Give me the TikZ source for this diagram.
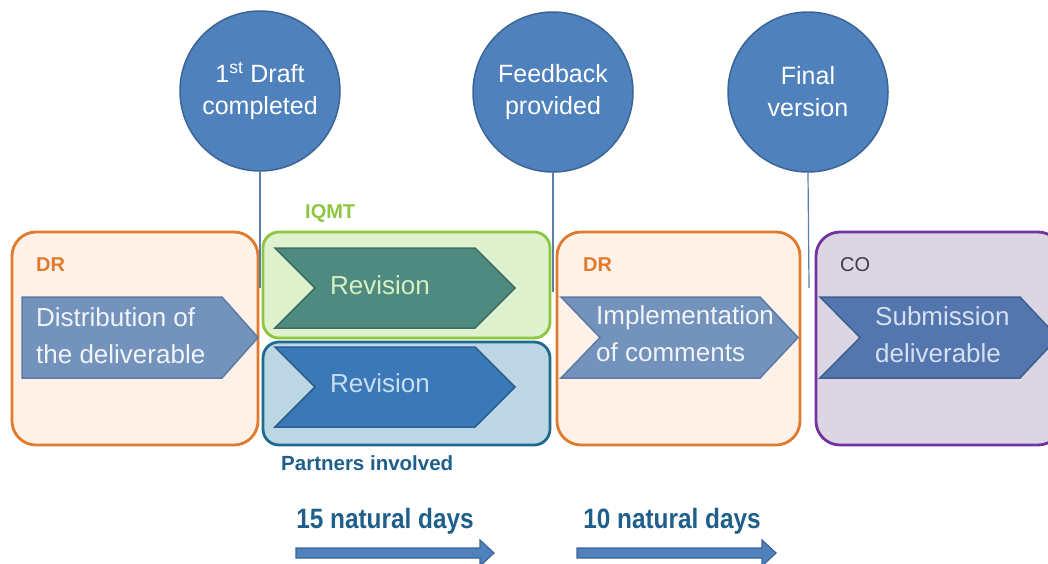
\documentclass[tikz,border=0pt]{standalone}
\usepackage{fontspec}
\usepackage{graphicx}
\setmainfont{Liberation Sans}

\definecolor{orangeline}{HTML}{E07A2C}
\definecolor{orangefill}{HTML}{FDF1E8}
\definecolor{greenline}{HTML}{8DC63F}
\definecolor{greenfill}{HTML}{E0F1CD}
\definecolor{blueline}{HTML}{1F6A8F}
\definecolor{bluefill}{HTML}{BDD6E3}
\definecolor{purpleline}{HTML}{7232A0}
\definecolor{purplefill}{HTML}{DCD6E3}
\definecolor{milestone}{HTML}{4F81BD}
\definecolor{milestoneline}{HTML}{3B6596}
\definecolor{stepblue}{HTML}{7393BD}
\definecolor{stepblueline}{HTML}{5B7BA6}
\definecolor{stepteal}{HTML}{4F8A80}
\definecolor{steptealline}{HTML}{3E6F67}
\definecolor{steproyal}{HTML}{3B78B7}
\definecolor{steproyalline}{HTML}{2B5E92}
\definecolor{stepsubmit}{HTML}{5476AE}
\definecolor{stepsubmitline}{HTML}{3F5F93}
\definecolor{labelblue}{HTML}{1F5F8B}
\definecolor{labelgrey}{HTML}{3C3C4E}
\definecolor{tickline}{HTML}{5A7FA8}
\definecolor{paletext}{HTML}{F2F4F8}
\definecolor{palegreen}{HTML}{D6F0C4}
\definecolor{paleblue}{HTML}{C8DEF0}
\definecolor{palelilac}{HTML}{D6E0F0}

\tikzset{
  milestonenode/.style={circle, fill=milestone, draw=milestoneline, line width=1.5pt,
    minimum size=160pt, inner sep=0pt, text=white, align=center,
    font=\fontsize{25pt}{32pt}\selectfont},
  phasebox/.style={rounded corners=24pt, line width=2.8pt, inner sep=0pt},
  stepshape/.style={line width=1.5pt},
  steptext/.style={align=left, inner sep=0pt, font=\fontsize{26pt}{37pt}\selectfont},
  rolelabel/.style={inner sep=0pt, font=\bfseries\fontsize{20pt}{24pt}\selectfont},
  tickconn/.style={draw=tickline, line width=1.2pt},
  durationtext/.style={inner sep=0pt, text=labelblue,
    font=\bfseries\fontsize{28pt}{32pt}\selectfont},
  durationarrow/.style={fill=milestone, draw=milestoneline, line width=1.2pt}
}

\begin{document}
\begin{tikzpicture}[x=1pt,y=-1pt]
\useasboundingbox (0,0) rectangle (1048,563);
\fill[white] (0,0) rectangle (1048,563);

% milestones and their ticks
\node[milestonenode] (m1) at (260,91) {1\textsuperscript{st} Draft\\completed};
\node[milestonenode] (m2) at (553,92) {Feedback\\provided};
\node[milestonenode] (m3) at (808,92) {Final\\version};
\coordinate (t1) at (260,288);
\coordinate (t2) at (553,292);
\coordinate (t3) at (809,288);

% phase boxes
\node[phasebox, draw=orangeline, fill=orangefill, minimum width=246pt, minimum height=213pt] (dr1) at (135,338.5) {};
\node[phasebox, rounded corners=16pt, draw=greenline, fill=greenfill, minimum width=287pt, minimum height=106pt] (iqmt) at (406.5,285) {};
\node[phasebox, rounded corners=16pt, draw=blueline, fill=bluefill, minimum width=287pt, minimum height=103pt] (partners) at (406.5,393.5) {};
\node[phasebox, draw=orangeline, fill=orangefill, minimum width=243pt, minimum height=213pt] (dr2) at (678.5,338.5) {};
\node[phasebox, draw=purpleline, fill=purplefill, minimum width=246pt, minimum height=213pt] (co) at (939,338.5) {};

\draw[tickconn] (m1.south) -- (t1);
\draw[tickconn] (m2.south) -- (t2);
\draw[tickconn] (m3.south) -- (t3);

% role labels
\node[rolelabel, text=orangeline, anchor=west] (lbl-dr1) at (36,265) {DR};
\node[rolelabel, text=greenline, anchor=west] (lbl-iqmt) at (305,213) {IQMT};
\node[rolelabel, text=orangeline, anchor=west] (lbl-dr2) at (583,265) {DR};
\node[rolelabel, text=labelgrey, font=\fontsize{20pt}{24pt}\selectfont, anchor=west] (lbl-co) at (840,265) {CO};
\node[rolelabel, text=labelblue, font=\bfseries\fontsize{20.5pt}{24pt}\selectfont, anchor=west] (lbl-partners) at (281,463) {Partners involved};

% process steps
\draw[stepshape, fill=stepblue, draw=stepblueline]
  (22,297) -- (222,297) -- (258,337.5) -- (222,378) -- (22,378) -- cycle;
\node[steptext, text=paletext, anchor=west] (s1) at (36,336) {Distribution of\\the deliverable};

\draw[stepshape, fill=stepteal, draw=steptealline]
  (275,248) -- (475,248) -- (515,288) -- (475,328) -- (275,328) -- (315,288) -- cycle;
\node[steptext, text=palegreen] (s2) at (380,285) {Revision};

\draw[stepshape, fill=steproyal, draw=steproyalline]
  (275,347) -- (475,347) -- (515,387) -- (475,427) -- (275,427) -- (315,387) -- cycle;
\node[steptext, text=paleblue] (s3) at (380,383) {Revision};

\draw[stepshape, fill=stepblue, draw=stepblueline]
  (561,297) -- (760,297) -- (798,337.5) -- (760,378) -- (561,378) -- (600,337.5) -- cycle;
\node[steptext, text=paletext, anchor=west] (s4) at (596,334) {Implementation\\of comments};

\draw[stepshape, fill=stepsubmit, draw=stepsubmitline]
  (820,297) -- (1020,297) -- (1058,337.5) -- (1020,378) -- (820,378) -- (860,337.5) -- cycle;
\node[steptext, text=palelilac, anchor=west] (s5) at (875,335) {Submission\\deliverable};

% durations
\node[durationtext] (d1) at (385,521) {\scalebox{0.87}[1]{15 natural days}};
\node[durationtext] (d2) at (672,521) {\scalebox{0.87}[1]{10 natural days}};
\draw[durationarrow] (296,548) -- (480,548) -- (480,540) -- (494,553) -- (480,566) -- (480,558) -- (296,558) -- cycle;
\draw[durationarrow] (577,548) -- (762,548) -- (762,540) -- (776,553) -- (762,566) -- (762,558) -- (577,558) -- cycle;
\end{tikzpicture}
\end{document}
